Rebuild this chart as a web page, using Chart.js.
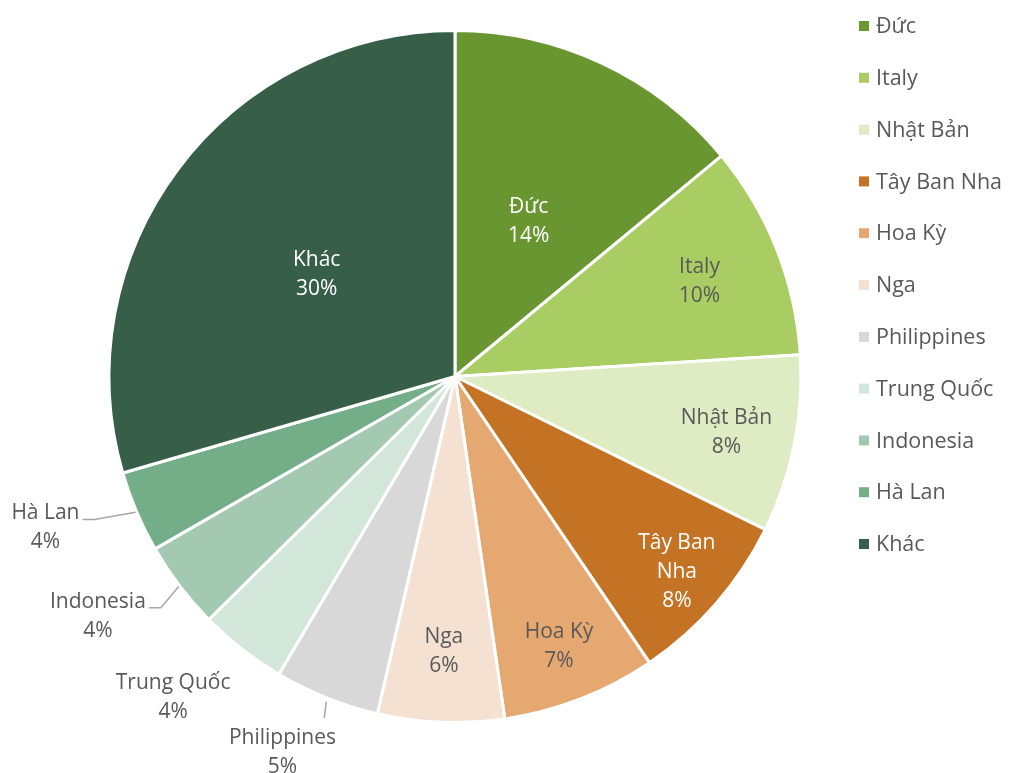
<!DOCTYPE html>
<html>
<head>
<meta charset="utf-8">
<script src="https://cdn.jsdelivr.net/npm/chart.js@4.4.1/dist/chart.umd.min.js"></script>
<style>
  html, body { margin: 0; padding: 0; background: #fff; }
  #wrap { position: relative; width: 1013px; height: 773px; }
</style>
</head>
<body>
<div id="wrap"><canvas id="chart" width="1013" height="773"></canvas></div>
<script>
// data
const categories = ["Đức", "Italy", "Nhật Bản", "Tây Ban Nha", "Hoa Kỳ", "Nga",
  "Philippines", "Trung Quốc", "Indonesia", "Hà Lan", "Khác"];
const shares = [14.0, 10.0, 8.3, 8.2, 7.2, 5.9, 4.9, 4.1, 4.1, 3.8, 29.5];

const colors = ["#6a9632", "#a9cd62", "#dfebc2", "#c47224", "#e5a871", "#f5e1d1",
  "#d8d8d8", "#d3e6da", "#a3c9b1", "#73ae89", "#365e48"];

const FONT = '"Open Sans", "DejaVu Sans", sans-serif';
const GREY = "#595959";

// label placement: distance from centre (x radius), angle nudge (deg), text colour, leader type
const labelStyle = [
  { d: 0.50, da: 0, color: "#fff" },
  { d: 0.76, da: 0, color: GREY },
  { d: 0.80, da: 0, color: GREY },
  { d: 0.85, da: 0, color: "#fff" },
  { d: 0.83, da: 0, color: GREY },
  { d: 0.79, da: 0, color: GREY },
  { d: 1.19, da: 3, color: GREY, leader: "top" },
  { d: 1.23, da: 3.5, color: GREY },
  { d: 1.24, da: 3.6, color: GREY, leader: "side" },
  { d: 1.26, da: 3.0, color: GREY, leader: "side" },
  { d: 0.50, da: 0, color: "#fff" },
];

const sliceLabels = {
  id: "sliceLabels",
  afterDatasetsDraw(chart) {
    const ctx = chart.ctx;
    const meta = chart.getDatasetMeta(0);
    const total = shares.reduce((a, b) => a + b, 0);
    ctx.save();
    ctx.font = "21px " + FONT;
    ctx.textAlign = "center";
    ctx.textBaseline = "middle";
    const lh = 29;
    meta.data.forEach((arc, i) => {
      const st = labelStyle[i];
      const { x, y, startAngle, endAngle, outerRadius } = arc.getProps(
        ["x", "y", "startAngle", "endAngle", "outerRadius"], true);
      const mid = (startAngle + endAngle) / 2 + st.da * Math.PI / 180;
      const cx = x + Math.cos(mid) * outerRadius * st.d;
      const cy = y + Math.sin(mid) * outerRadius * st.d + 2;

      // wrap long names inside slices
      let lines = [categories[i]];
      if (st.d < 1 && ctx.measureText(categories[i]).width > 110) {
        const w = categories[i].split(" ");
        lines = [w.slice(0, w.length - 1).join(" "), w[w.length - 1]];
      }
      lines.push(Math.round(shares[i] / total * 100) + "%");
      const top = cy - (lines.length - 1) * lh / 2;
      ctx.fillStyle = st.color;
      lines.forEach((t, k) => ctx.fillText(t, cx, top + k * lh));

      if (st.leader) {
        const ea = (startAngle + endAngle) / 2;
        const ex = x + Math.cos(ea) * (outerRadius + 1);
        const ey = y + Math.sin(ea) * (outerRadius + 1);
        ctx.strokeStyle = "#a6a6a6";
        ctx.lineWidth = 1.5;
        ctx.beginPath();
        if (st.leader === "side") {
          const tw = ctx.measureText(lines[0]).width;
          const lx = cx + tw / 2 + 3;
          const ly = top + 6;
          ctx.moveTo(ex, ey);
          ctx.lineTo(lx + 12, ly);
          ctx.lineTo(lx, ly);
        } else {
          ctx.moveTo(ex, ey + 3);
          ctx.lineTo(ex - 2, top - 20);
        }
        ctx.stroke();
      }
    });
    ctx.restore();
  }
};

const sideLegend = {
  id: "sideLegend",
  afterDraw(chart) {
    const ctx = chart.ctx;
    ctx.save();
    ctx.font = "21.5px " + FONT;
    ctx.textAlign = "left";
    ctx.textBaseline = "middle";
    categories.forEach((name, i) => {
      const yy = 26 + i * 51.8;
      ctx.fillStyle = colors[i];
      ctx.fillRect(859, yy - 5, 10, 10);
      ctx.fillStyle = GREY;
      ctx.fillText(name, 876, yy + 1);
    });
    ctx.restore();
  }
};

new Chart(document.getElementById("chart"), {
  type: "pie",
  data: {
    labels: categories,
    datasets: [{
      data: shares,
      backgroundColor: colors,
      borderColor: "#ffffff",
      borderWidth: 3,
    }],
  },
  options: {
    responsive: false,
    animation: false,
    layout: { padding: { left: 100, right: 203, top: 29, bottom: 49 } },
    plugins: {
      legend: { display: false },
      tooltip: { enabled: false },
    },
  },
  plugins: [sliceLabels, sideLegend],
});
</script>
</body>
</html>
